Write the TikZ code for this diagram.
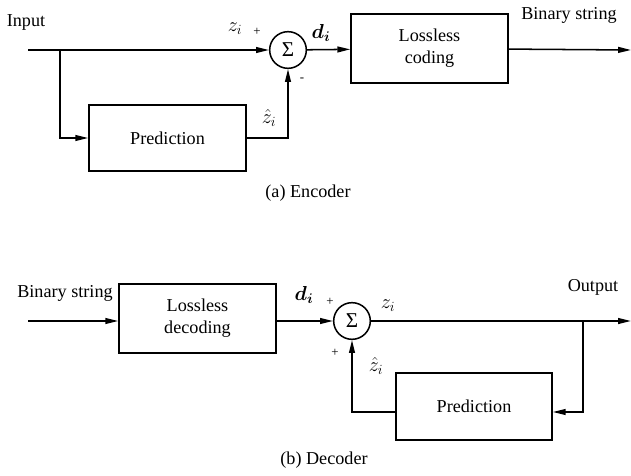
\documentclass[tikz,border=0pt]{standalone}
\usepackage{fontspec}
\setmainfont{Liberation Serif}
\usepackage{amsmath}
\usetikzlibrary{arrows.meta}

\tikzset{
  block/.style={draw, line width=1.3pt, minimum width=4.71cm, minimum height=2.04cm, align=center},
  sumnode/.style={draw, circle, line width=1.3pt, minimum size=1.1cm, inner sep=0pt, font=\fontsize{18}{20}\selectfont},
  sgn/.style={font=\fontsize{11}{12}\selectfont},
  var/.style={font=\fontsize{18}{20}\selectfont},
  wire/.style={line width=1.3pt}
}

\begin{document}
\begin{tikzpicture}[x=0.03cm, y=-0.03cm, font=\fontsize{15.5}{19}\selectfont, >={Triangle[length=11pt, width=5pt]}]
			\useasboundingbox (0,0) rectangle (631,476);
			% encoder
			\coordinate (inA) at (28,50);
			\coordinate (brA) at (60,50);
			\coordinate (outA) at (631,50);
			\node[sumnode] (sumA) at (288,50) {Σ};
			\node[block, minimum height=1.98cm] (predA) at (167.5,138) {Prediction};
			\node[block, minimum height=2.07cm] (codeA) at (429.5,48.5) {Lossless\\coding};
			\draw[wire,->] (inA) -- (sumA);
			\draw[wire,->] (brA) |- (predA);
			\draw[wire,->] (predA) -| (sumA);
			\draw[wire,->] (sumA) -- (codeA);
			\draw[wire,->] (codeA) -- (outA);
			\node (inputA) at (26,22) {Input};
			\node[var] (zA) at (235,29) {$z_i$};
			\node[sgn] (plusA) at (257,32) {+};
			\node[sgn] (minusA) at (302,80) {-};
			\node[var] (zhatA) at (269,118) {$\hat{z}_i$};
			\node[var] (dA) at (321,33) {$\boldsymbol{d_i}$};
			\node (binA) at (569,15) {Binary string};
			\node (capA) at (308,193) {(a) Encoder};
			% decoder
			\coordinate (inB) at (28,321);
			\coordinate (outB) at (631,321);
			\coordinate (brB) at (583,321);
			\coordinate (fbB) at (583,412);
			\node[block, minimum height=2.07cm] (decB) at (197.5,318.5) {Lossless\\decoding};
			\node[sumnode] (sumB) at (352,321) {Σ};
			\node[block, minimum width=4.68cm, minimum height=2.01cm] (predB) at (474,406.5) {Prediction};
			\draw[wire,->] (inB) -- (decB.west |- inB);
			\draw[wire,->] (decB.east |- inB) -- (sumB);
			\draw[wire,->] (sumB) -- (outB);
			\draw[wire,->] (brB) -- (fbB) -- (predB.east |- fbB);
			\draw[wire,->] (predB.west |- fbB) -| (sumB);
			\node (binB) at (65,293) {Binary string};
			\node[var] (dB) at (304,295) {$\boldsymbol{d_i}$};
			\node[sgn] (plusB) at (330,302) {+};
			\node[sgn] (plusB2) at (335,353) {+};
			\node[var] (zB) at (388,306) {$z_i$};
			\node[var] (zhatB) at (376,366) {$\hat{z}_i$};
			\node (outputB) at (593,287) {Output};
			\node (capB) at (324,460) {(b) Decoder};
		\end{tikzpicture}
\end{document}
